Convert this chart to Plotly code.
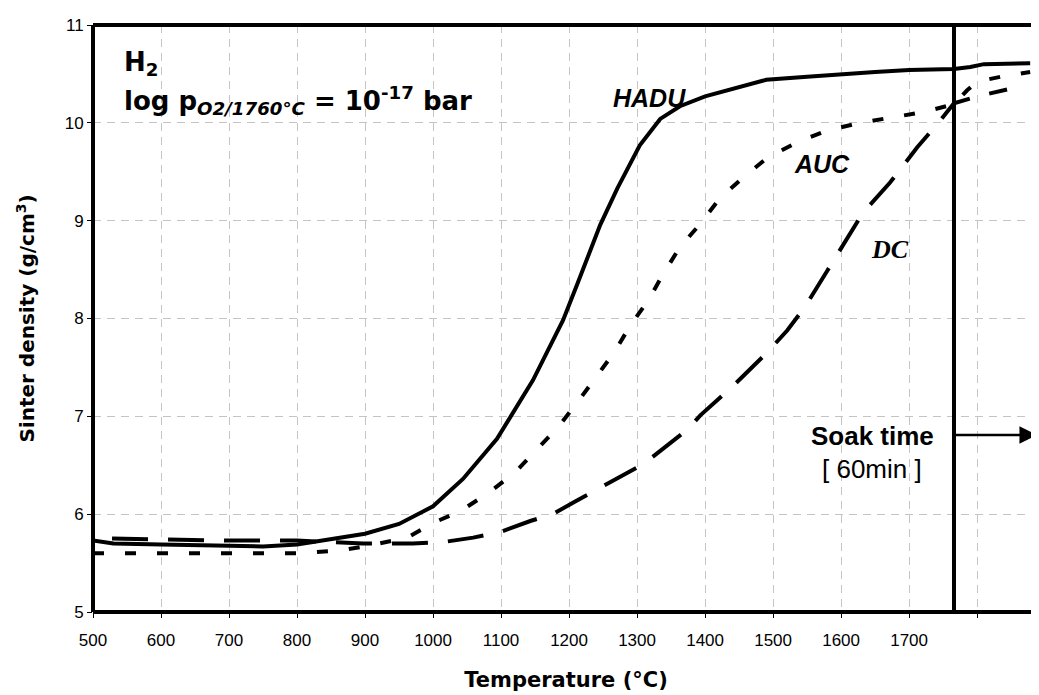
import plotly.graph_objects as go

# ---- data ----
hadu_t = [500, 530, 600, 700, 750, 800, 850, 900, 950, 980, 1000, 1044, 1094, 1147, 1191, 1212,
          1246, 1271, 1304, 1334, 1363, 1400, 1450, 1490, 1550, 1600, 1650, 1700, 1766, 1790, 1810, 1878]
hadu_d = [5.73, 5.70, 5.69, 5.68, 5.67, 5.69, 5.74, 5.80, 5.90, 6.01, 6.08, 6.36, 6.77, 7.37, 7.98, 8.35,
          8.96, 9.33, 9.77, 10.04, 10.17, 10.27, 10.36, 10.44, 10.47, 10.50, 10.52, 10.54, 10.55, 10.57, 10.60, 10.61]

auc_t = [500, 600, 700, 800, 863, 900, 962, 1000, 1040, 1084, 1121, 1154, 1184, 1212, 1241, 1268, 1290,
         1316, 1338, 1363, 1392, 1422, 1454, 1491, 1535, 1579, 1628, 1672, 1721, 1766, 1785, 1800, 1834, 1878]
auc_d = [5.60, 5.60, 5.59, 5.60, 5.63, 5.67, 5.76, 5.91, 6.03, 6.23, 6.43, 6.67, 6.89, 7.14, 7.41, 7.67, 7.93,
         8.18, 8.45, 8.73, 8.96, 9.23, 9.43, 9.64, 9.80, 9.92, 10.00, 10.05, 10.11, 10.19, 10.33, 10.42, 10.47, 10.52]

dc_t = [528, 600, 700, 800, 897, 970, 1020, 1059, 1100, 1143, 1176, 1209, 1246, 1309, 1375, 1393, 1441,
        1491, 1521, 1547, 1579, 1609, 1632, 1672, 1712, 1743, 1766, 1800, 1844]
dc_d = [5.75, 5.74, 5.73, 5.73, 5.70, 5.70, 5.72, 5.76, 5.82, 5.93, 6.00, 6.13, 6.27, 6.51, 6.87, 7.01, 7.31,
        7.65, 7.88, 8.12, 8.48, 8.83, 9.08, 9.39, 9.75, 10.00, 10.20, 10.27, 10.34]

x_tickvals = [500, 600, 700, 800, 900, 1000, 1100, 1200, 1300, 1400, 1500, 1600, 1700]
x_extra_tick = [1800]
y_tickvals = [5, 6, 7, 8, 9, 10, 11]

soak_start = 1766
x_range = [500, 1891]
y_range = [5, 11]

FONT = "Arial, Liberation Sans, sans-serif"
WIDE = "DejaVu Sans, Verdana, sans-serif"

fig = go.Figure()
fig.add_trace(go.Scatter(x=hadu_t, y=hadu_d, mode="lines", name="HADU",
                         line=dict(color="black", width=4)))
fig.add_trace(go.Scatter(x=auc_t, y=auc_d, mode="lines", name="AUC",
                         line=dict(color="black", width=4, dash="11px,21px")))
fig.add_trace(go.Scatter(x=dc_t, y=dc_d, mode="lines", name="DC",
                         line=dict(color="black", width=4, dash="36px,20px")))

grid = dict(showgrid=True, gridcolor="#c4c4c4", gridwidth=1, griddash="8px,6px")

fig.update_layout(
    width=1039, height=695,
    margin=dict(l=85, r=8, t=10, b=91),
    paper_bgcolor="white", plot_bgcolor="white",
    showlegend=False,
    font=dict(family=FONT, color="black", size=17),
    xaxis=dict(range=x_range, tickvals=x_tickvals,
               ticks="outside", ticklen=5, tickcolor="black", tickwidth=1,
               ticklabelstandoff=8,
               showline=False, zeroline=False,
               tickfont=dict(size=17, family=FONT),
               minor=dict(tickvals=x_extra_tick, ticks="outside", ticklen=5, tickcolor="black",
                          showgrid=True, gridcolor="#c4c4c4", gridwidth=1, griddash="8px,6px"),
               title=dict(text="<b>Temperature (°C)</b>", font=dict(size=21, family=WIDE), standoff=22),
               **grid),
    yaxis=dict(range=y_range, tickvals=y_tickvals,
               ticks="outside", ticklen=5, tickcolor="black", tickwidth=1,
               showline=False, zeroline=False,
               tickfont=dict(size=17, family=FONT),
               title=dict(text="<b>Sinter density (g/cm<sup>3</sup>)</b>", font=dict(size=20, family=WIDE), standoff=24),
               **grid),
)

# plot frame (left, bottom, top) and soak-time marker
fig.add_shape(type="line", xref="paper", yref="paper", x0=0, x1=0, y0=0, y1=1,
              line=dict(color="black", width=4))
fig.add_shape(type="line", xref="paper", yref="paper", x0=0, x1=1, y0=0, y1=0,
              line=dict(color="black", width=4))
fig.add_shape(type="line", xref="paper", yref="paper", x0=0, x1=1, y0=1, y1=1,
              line=dict(color="black", width=4))
fig.add_shape(type="line", xref="x", yref="paper", x0=soak_start, x1=soak_start, y0=0, y1=1,
              line=dict(color="black", width=4))

# arrow for soak time
fig.add_annotation(x=x_range[1] - 3, y=6.81, ax=soak_start, ay=6.81, xref="x", yref="y",
                   axref="x", ayref="y", text="", showarrow=True,
                   arrowhead=2, arrowsize=1.4, arrowwidth=2.5, arrowcolor="black")
fig.add_annotation(x=1646, y=6.80, xref="x", yref="y", text="<b>Soak time</b>", showarrow=False,
                   font=dict(size=26, family=FONT))
fig.add_annotation(x=1646, y=6.46, xref="x", yref="y", text="[ 60min ]", showarrow=False,
                   font=dict(size=26, family=FONT))

# curve labels
fig.add_annotation(x=1319, y=10.25, text="<b><i>HADU</i></b>", showarrow=False,
                   font=dict(size=25, family=FONT))
fig.add_annotation(x=1572, y=9.58, text="<b><i>AUC</i></b>", showarrow=False,
                   font=dict(size=25, family=FONT))
fig.add_annotation(x=1672, y=8.71, text="<b><i>DC</i></b>", showarrow=False,
                   font=dict(size=26, family="Liberation Serif, Times New Roman, serif"))

# atmosphere text (positions in screen px converted to paper fractions of the 18..612 plot box)
def py(y_px):
    return (612 - y_px) / 594.0

fig.add_annotation(xref="paper", yref="paper", x=(122 - 93) / 946.0, y=py(57), xanchor="left", yanchor="middle",
                   text="<b>H<sub>2</sub></b>", showarrow=False, align="left",
                   font=dict(size=26, family=WIDE))
fig.add_annotation(xref="paper", yref="paper", x=(122 - 93) / 946.0, y=py(94), xanchor="left", yanchor="middle",
                   text="<b>log p<sub><i>O2/1760°C</i></sub> = 10<sup>-17</sup> bar</b>", showarrow=False, align="left",
                   font=dict(size=26, family=WIDE))

fig.write_html("out.html")
